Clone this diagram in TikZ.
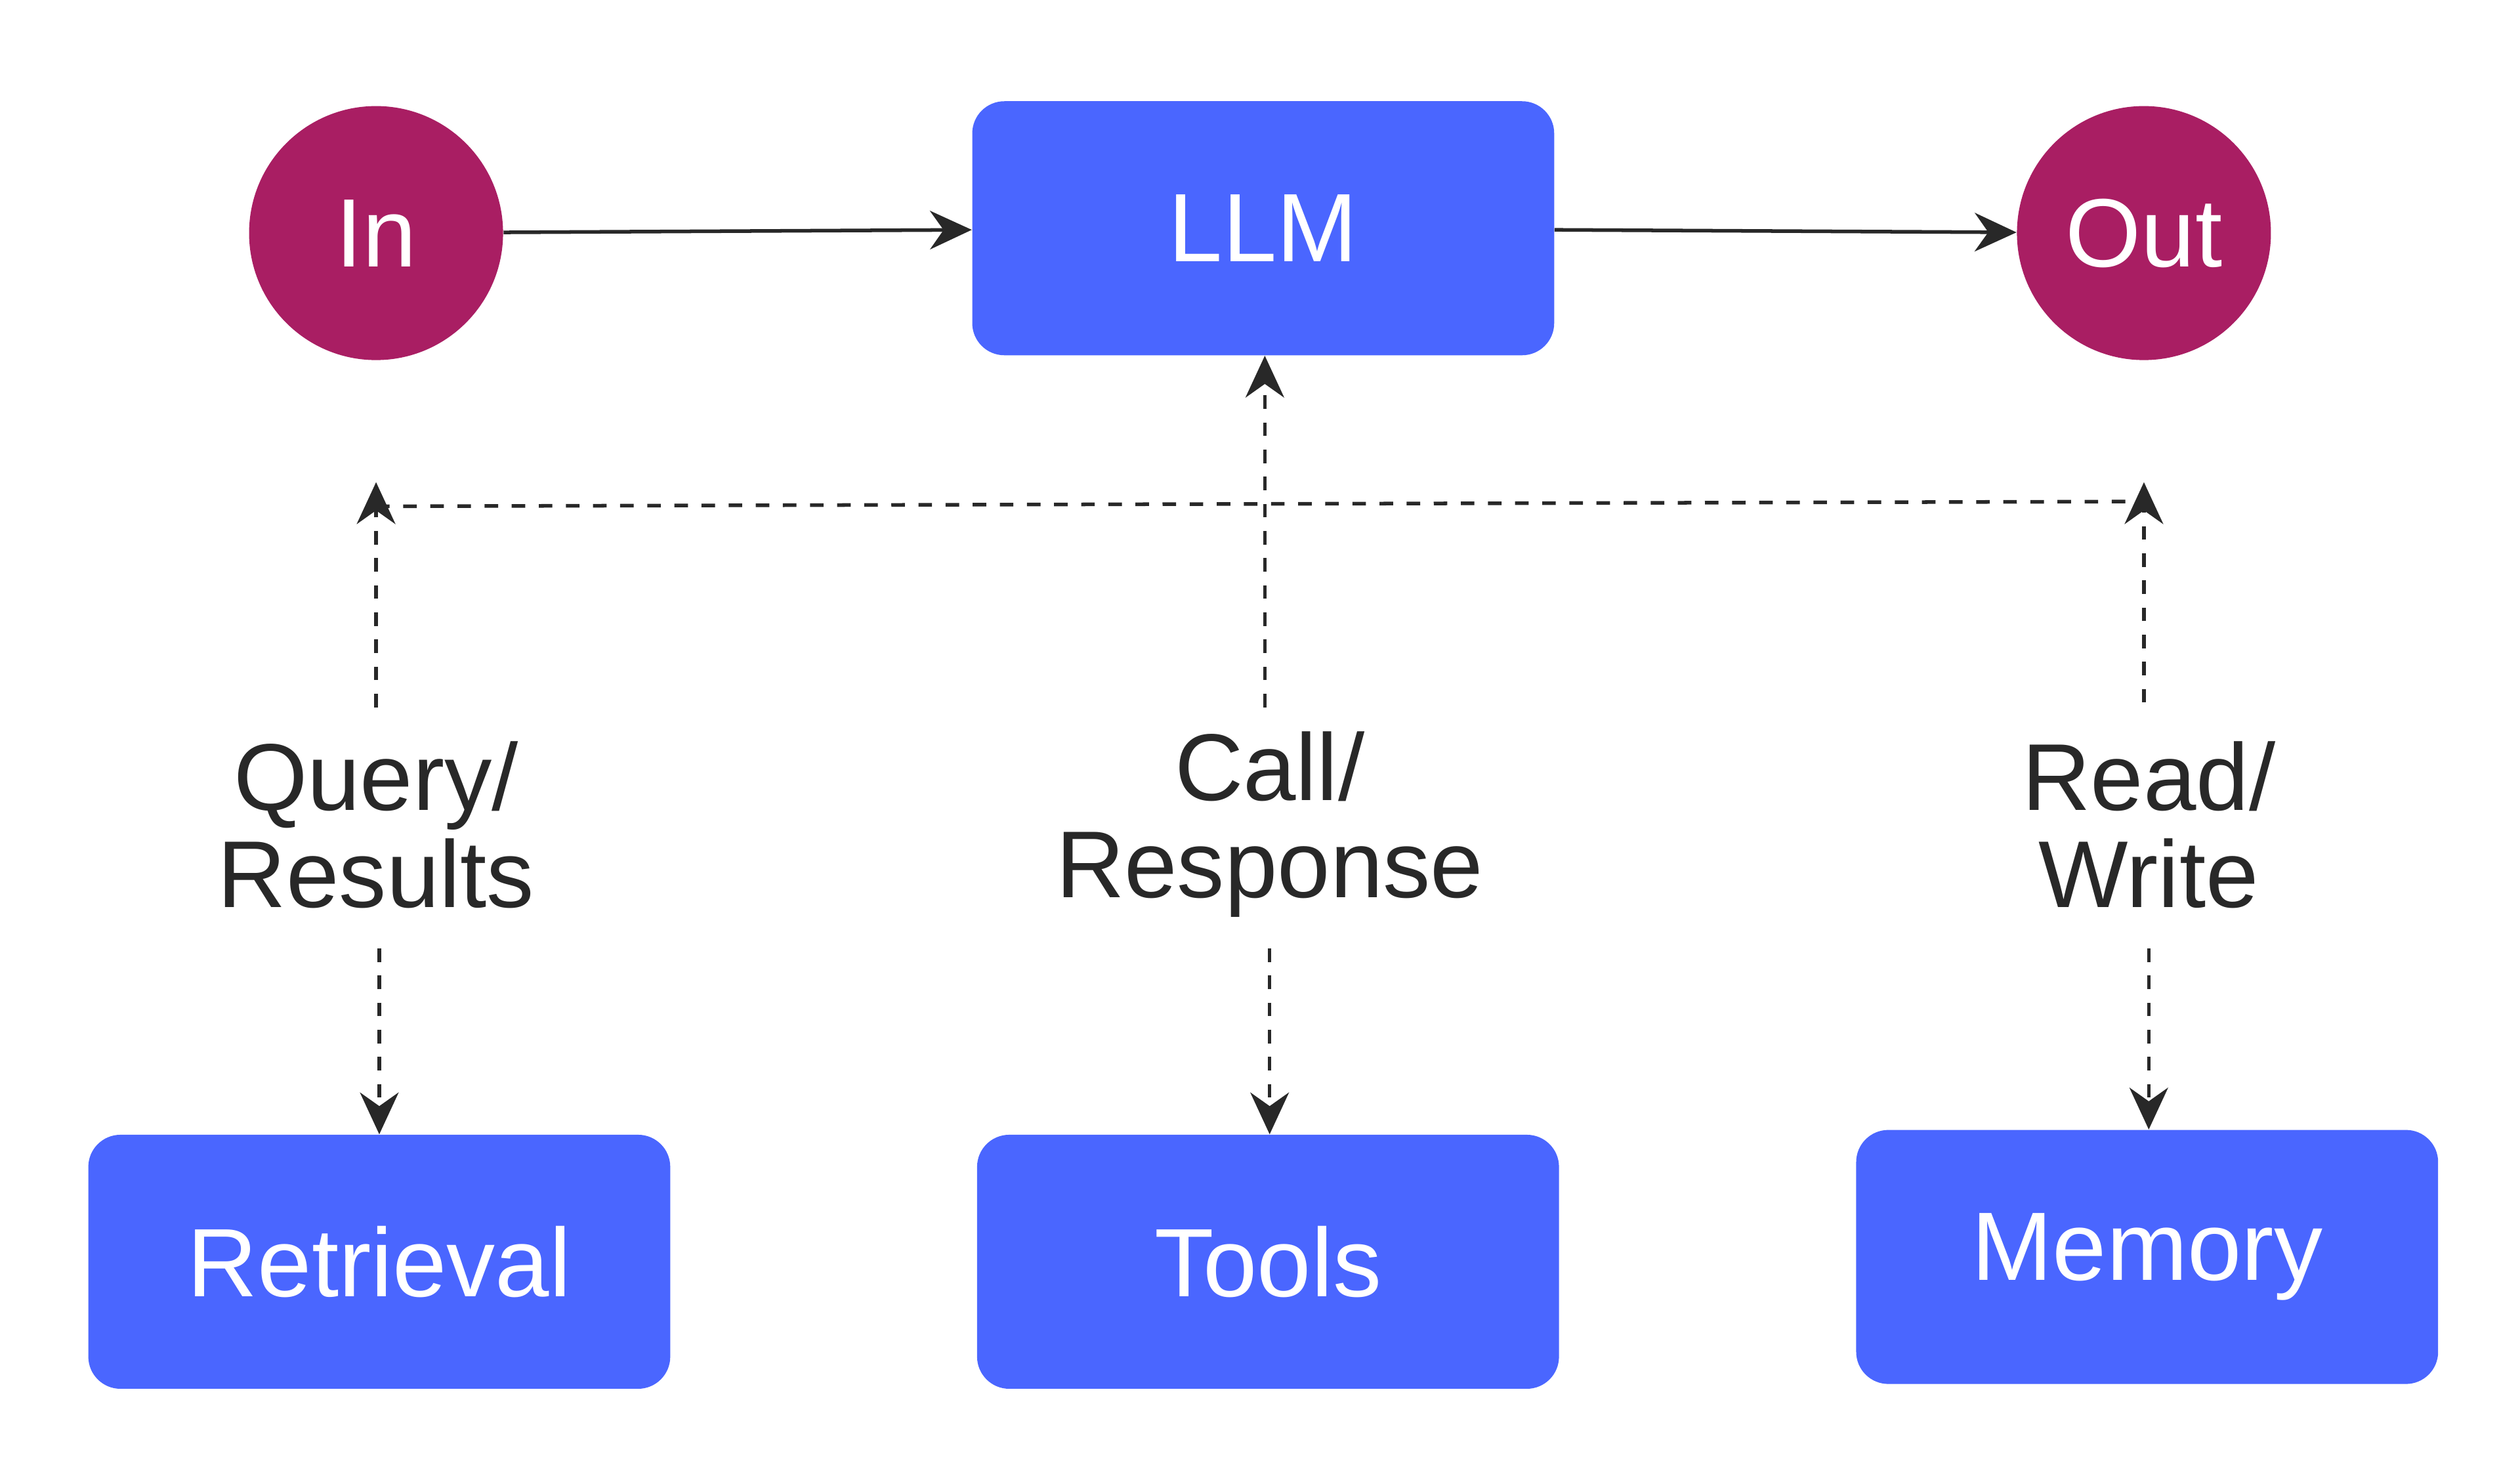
\documentclass[tikz,border=0pt]{standalone}
\usepackage{fontspec}
\setmainfont{Liberation Sans}
\usetikzlibrary{arrows.meta}
\definecolor{mag}{RGB}{169,30,99}
\definecolor{blu}{RGB}{74,102,255}
\definecolor{ink}{RGB}{40,40,40}
\begin{document}
\begin{tikzpicture}[x=0.025cm,y=-0.025cm,
  box/.style={fill=blu,rounded corners=0.5cm,minimum width=9.05cm,minimum height=3.95cm,text=white,font=\fontsize{43}{43}\selectfont},
  circ/.style={circle,fill=mag,minimum size=3.95cm,text=white,font=\fontsize{43}{43}\selectfont,inner sep=0},
  lab/.style={text=ink,align=center,font=\fontsize{42}{43}\selectfont},
  sol/.style={draw=ink,line width=1.6pt,-{Stealth[length=0.65cm,width=0.6cm]}},
  dsh/.style={draw=ink,line width=1.6pt,dash pattern=on 6pt off 6pt,-{Stealth[length=0.65cm,width=0.6cm]}},
  dshn/.style={draw=ink,line width=1.6pt,dash pattern=on 6pt off 6pt}]
\useasboundingbox (0,0) rectangle (1568,922);
\node[circ] (in) at (234,145) {In};
\node[box] (llm) at (786,142) {LLM};
\node[circ] (out) at (1334,145) {Out};
\node[box] (ret) at (236,785) {Retrieval};
\node[box] (tools) at (789,785) {Tools};
\node[box] (mem) at (1336,782) {Memory};
\node[lab] (q) at (234,513) {Query/\\Results};
\node[lab] (c) at (790,513) {Call/\\Response};
\node[lab] (r) at (1337,513) {Read/\\Write};
\coordinate (qt) at (234,300);
\coordinate (rt) at (1334,300);
\coordinate (hl) at (234,315);
\coordinate (hr) at (1334,312);
\draw[sol] (in) -- (llm);
\draw[sol] (llm) -- (out);
\draw[dsh] (234,440) -- (qt);
\draw[dsh] (1334,437) -- (rt);
\draw[dshn] (hl) -- (hr);
\draw[dsh] (787,440) -- (llm.south -| 787,0);
\draw[dsh] (236,590) -- (ret.north -| 236,0);
\draw[dsh] (790,590) -- (tools.north -| 790,0);
\draw[dsh] (1337,590) -- (mem.north -| 1337,0);
\end{tikzpicture}
\end{document}
